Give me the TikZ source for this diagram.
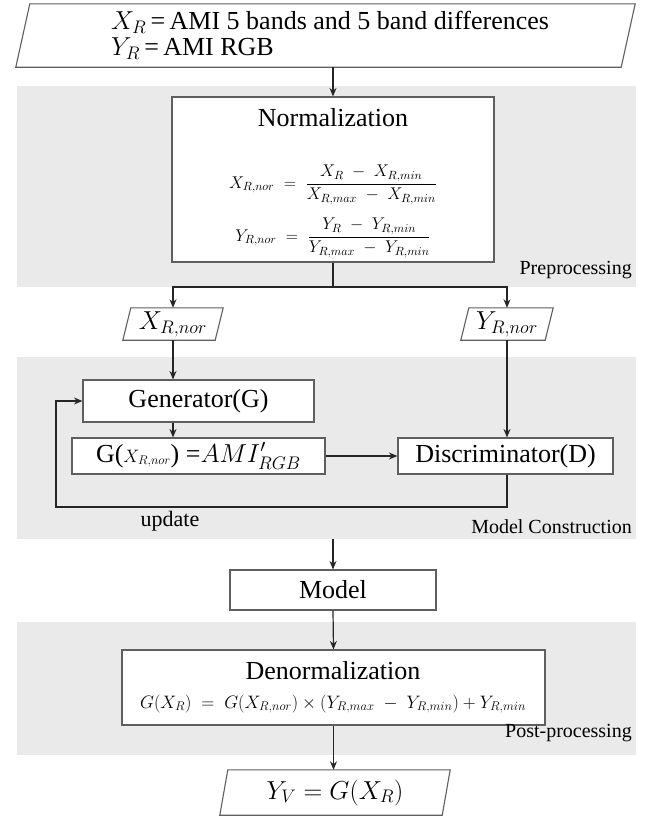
\RequirePackage{fix-cm}
\documentclass[tikz,border=0pt]{standalone}
\usepackage{amsmath}
\usepackage{fontspec}
\setmainfont{Liberation Serif}
\usetikzlibrary{arrows.meta,calc}
\definecolor{bandgray}{RGB}{234,234,234}
\definecolor{linegray}{RGB}{95,95,95}
\begin{document}
\begin{tikzpicture}[x=1pt,y=-1pt,
  band/.style={fill=bandgray, draw=none, inner sep=0pt, anchor=north west},
  box/.style={draw=linegray, line width=1.1pt, fill=white, inner sep=0pt},
  boxline/.style={draw=linegray, line width=1.1pt, fill=white},
  frame/.style={inner sep=0pt, draw=none},
  arr/.style={-{Stealth[length=8.5pt,width=7pt]}, line width=1.2pt, draw=black!85},
  lbl/.style={font=\fontsize{20}{24}\selectfont, anchor=east, inner sep=0pt},
  big/.style={font=\fontsize{26}{26}\selectfont, inner sep=0pt},
  small/.style={font=\fontsize{17}{19}\selectfont, inner sep=0pt},
]
\useasboundingbox (0,0) rectangle (649,819);

% bands
\node[band, minimum width=619pt, minimum height=201pt] (b1) at (17,86) {};
\node[band, minimum width=619pt, minimum height=182pt] (b2) at (17,357) {};
\node[band, minimum width=619pt, minimum height=133pt] (b3) at (17,622) {};

% input parallelogram
\node[frame, minimum width=619pt, minimum height=63pt] (in) at (325.5,35.5) {};
\draw[boxline] (in.south west) -- ([xshift=14pt]in.north west) -- (in.north east) -- ([xshift=-14pt]in.south east) -- cycle;
\node[big, align=left] (intext) at (330,35) {$X_R$\,=\,AMI 5 bands and 5 band differences\\[0pt]$Y_R$\,=\,AMI RGB};

% normalization
\node[box, minimum width=322pt, minimum height=165pt] (norm) at (333,179.5) {};
\node[big] (normt) at (333,118) {Normalization};
\node[small] (f1) at (333,185) {$X_{R,nor} \;=\; \dfrac{X_R \;-\; X_{R,min}}{X_{R,max} \;-\; X_{R,min}}$};
\node[small] (f2) at (333,238) {$Y_{R,nor} \;=\; \dfrac{Y_R \;-\; Y_{R,min}}{Y_{R,max} \;-\; Y_{R,min}}$};
\node[lbl] (pre) at (632,270) {Preprocessing};

% normalized data
\node[frame, minimum width=100pt, minimum height=32pt] (xn) at (173,324) {};
\draw[boxline] (xn.south west) -- ([xshift=8pt]xn.north west) -- (xn.north east) -- ([xshift=-8pt]xn.south east) -- cycle;
\node[big] (xnt) at (xn) {$X_{R,nor}$};
\node[frame, minimum width=92pt, minimum height=32pt] (yn) at (507,324) {};
\draw[boxline] (yn.south west) -- ([xshift=8pt]yn.north west) -- (yn.north east) -- ([xshift=-8pt]yn.south east) -- cycle;
\node[big] (ynt) at (yn) {$Y_{R,nor}$};

\coordinate (br) at (333,287);
\draw[arr] (norm.south) -- (br) -| (xn.north);
\draw[arr] (br) -| (yn.north);
\draw[arr] (in.south -| norm.north) -- (norm.north);

% model construction
\node[box, big, minimum width=231pt, minimum height=42pt] (gen) at (198.5,401) {Generator(G)};
\node[box, big, minimum width=253pt, minimum height=36pt] (gbox) at (198.5,456) {G({\fontsize{18}{20}\selectfont$X_{R,nor}$}) =$AMI'_{RGB}$};
\node[box, big, minimum width=215pt, minimum height=36pt] (disc) at (505.5,456) {Discriminator(D)};
\draw[arr] (xn.south) -- (xn.south |- gen.north);
\draw[arr] (gen.south -| xn.south) -- (gbox.north -| xn.south);
\draw[arr] (gbox.east) -- (disc.west);
\draw[arr] (yn.south) -- (yn.south |- disc.north);
\coordinate (fb) at (56,507);
\draw[arr] (disc.south -| yn.south) |- (fb) |- (gen.west);
\node[font=\fontsize{22}{24}\selectfont, inner sep=0pt] (upd) at (170,521) {update};
\node[lbl] (mc) at (632,527) {Model Construction};

% model
\node[box, big, minimum width=206pt, minimum height=40pt] (model) at (333,590) {Model};
\draw[arr] (b2.south -| model.north) -- (model.north);

% post-processing
\node[box, minimum width=423pt, minimum height=75pt] (denorm) at (333.5,687.5) {};
\node[big] (dent) at (333,671) {Denormalization};
\node[font=\fontsize{18}{20}\selectfont, inner sep=0pt] (f3) at (333,704) {$G(X_R) \;=\; G(X_{R,nor}) \times (Y_{R,max} \;-\; Y_{R,min}) + Y_{R,min}$};
\node[lbl] (post) at (632,733) {Post-processing};
\draw[arr] (model.south) -- (denorm.north);

% output
\node[frame, minimum width=230pt, minimum height=45pt] (out) at (335,792.5) {};
\draw[boxline] (out.south west) -- ([xshift=8pt]out.north west) -- (out.north east) -- ([xshift=-8pt]out.south east) -- cycle;
\node[big] (outt) at (out) {$Y_V = G(X_R)$};
\draw[arr] (denorm.south) -- (denorm.south |- out.north);
\end{tikzpicture}
\end{document}
